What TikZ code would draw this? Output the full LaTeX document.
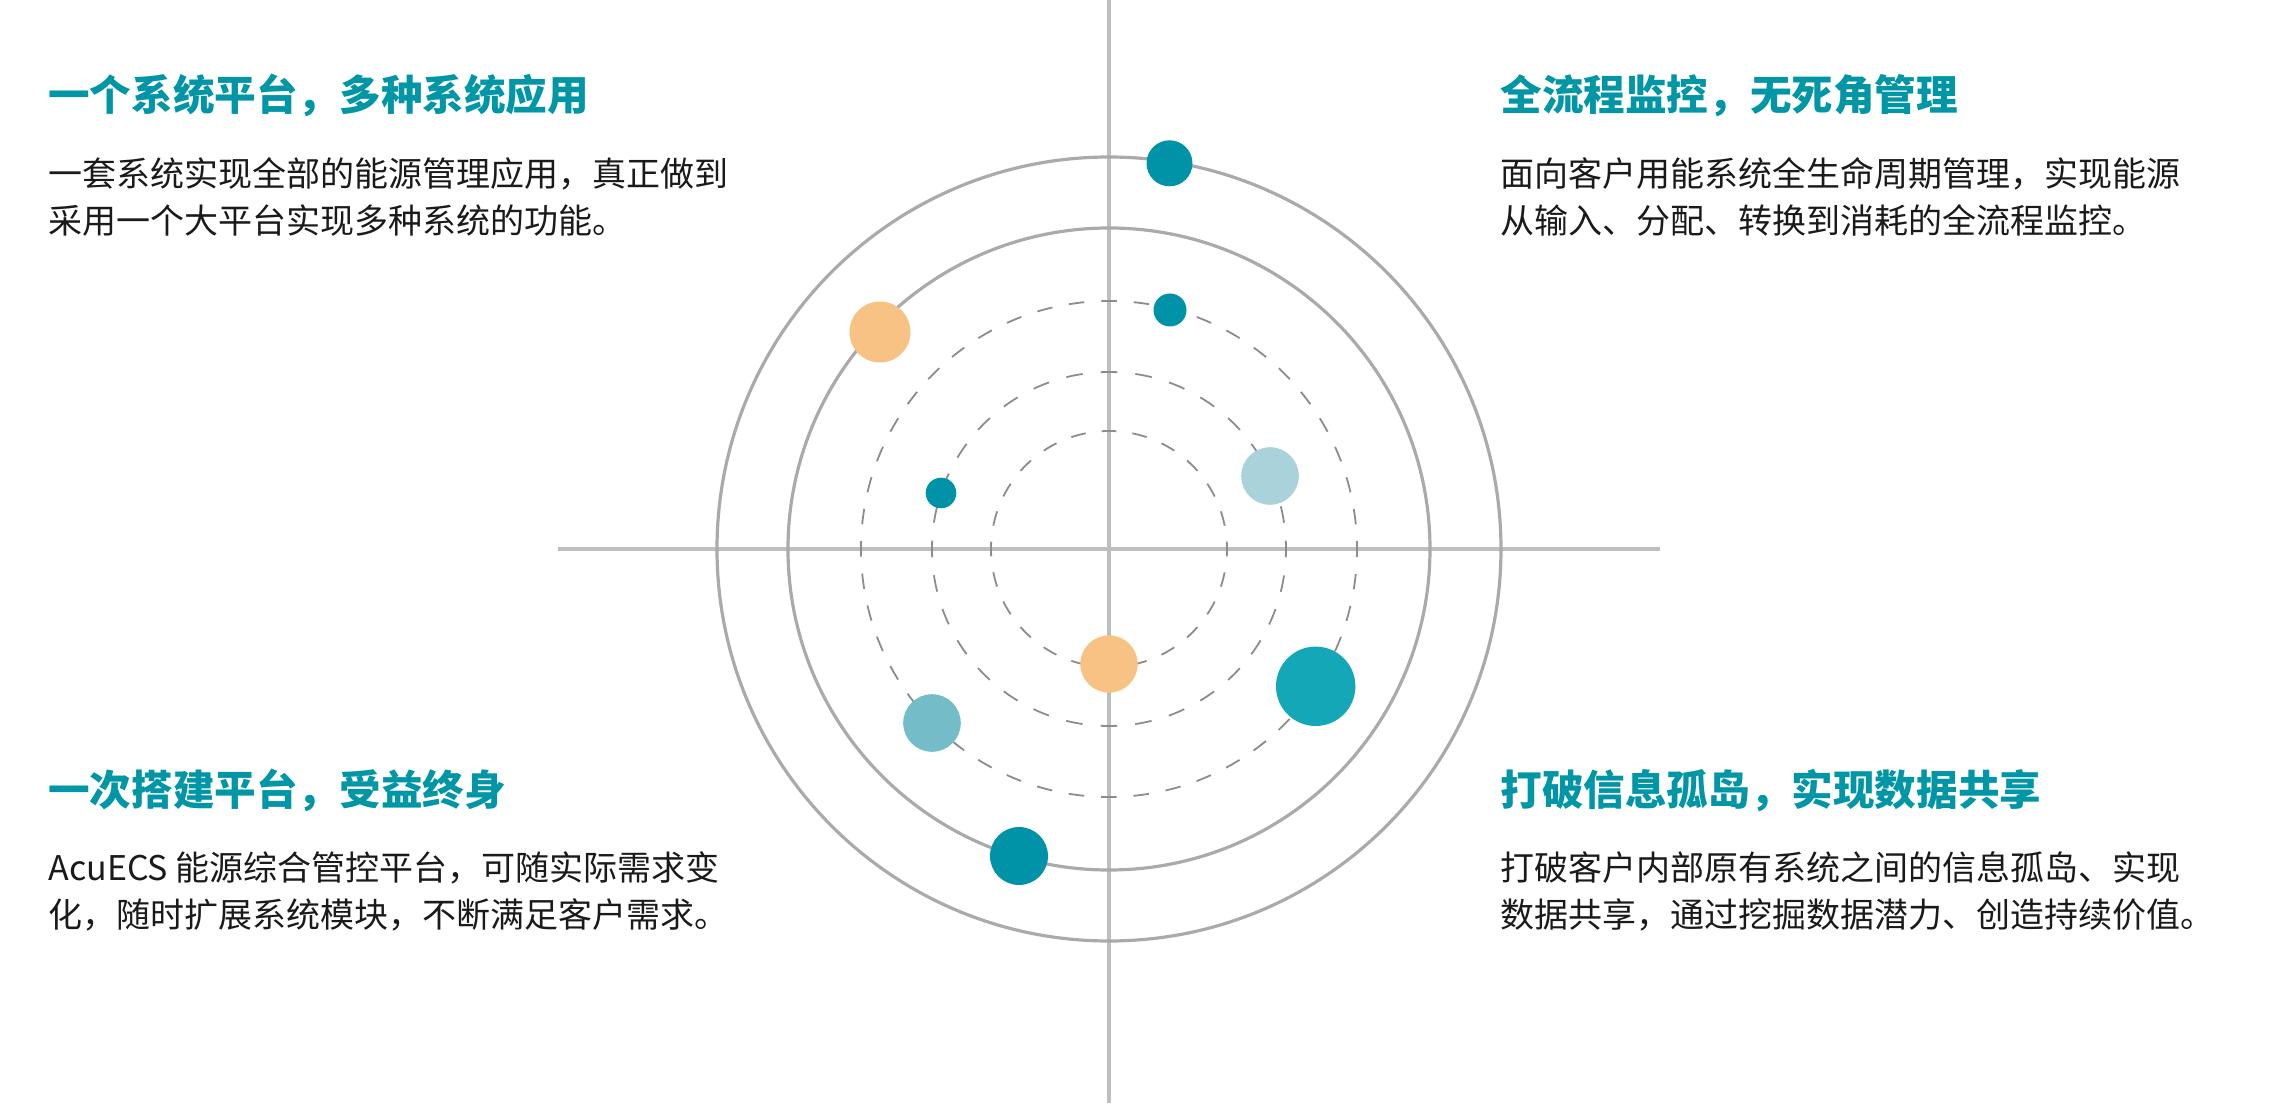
\documentclass[tikz,border=0pt]{standalone}
\usepackage{fontspec}
\setmainfont{Noto Sans CJK SC}
\usetikzlibrary{positioning}
\definecolor{axisgray}{HTML}{BEBEBE}
\definecolor{ringgray}{HTML}{AAAAAA}
\definecolor{dashgray}{HTML}{8C8C8C}
\definecolor{headteal}{HTML}{0096A6}
\definecolor{bodyblack}{HTML}{1A1A1A}
\definecolor{dotdark}{HTML}{0093A7}
\definecolor{dotorange}{HTML}{F7C283}
\definecolor{dotpale}{HTML}{A9D2DA}
\definecolor{dotmid}{HTML}{73BCC8}
\definecolor{dotbright}{HTML}{14A7B8}

\begin{document}
\begin{tikzpicture}[x=0.5pt,y=0.5pt,
    axis/.style={draw=axisgray, line width=2pt},
    ring/.style={draw=ringgray, line width=1.6pt},
    dashring/.style={draw=dashgray, line width=0.9pt},
    dot/.style={circle, inner sep=0pt, minimum size=#1},
    heading/.style={anchor=base west, inner sep=0pt, text=headteal,
      font=\fontsize{20.8pt}{24pt}\selectfont\bfseries},
    body/.style={anchor=base west, inner sep=0pt, align=left, text=bodyblack,
      font=\fontsize{17pt}{23.5pt}\selectfont}]
  \useasboundingbox (-1109,-554) rectangle (1166,549);
  % axes
  \coordinate (o) at (0,0);
  \coordinate (xl) at (-551,0);
  \coordinate (xr) at (551,0);
  \coordinate (yt) at (0,549);
  \coordinate (yb) at (0,-554);
  \draw[axis] (xl) -- (xr);
  \draw[axis] (yb) -- (yt);
  % rings
  \draw[ring] (o) circle (392);
  \draw[ring] (o) circle (321);
  \foreach \r/\n in {248/12,177/8,118/6}{
    \pgfmathsetmacro\per{pi*\r/(2*\n)*0.5}
    \pgfmathsetmacro\don{0.48*\per}
    \pgfmathsetmacro\doff{\per-\don}
    \pgfmathsetmacro\dph{0.5*\don}
    \draw[dashring, dash pattern=on \don pt off \doff pt, dash phase=\dph pt]
      (o) circle (\r);
  }
  % dots
  \node[dot=23pt, fill=dotdark] (d1) at (60.5,385.7) {};
  \node[dot=16.5pt, fill=dotdark] (d2) at (61,239) {};
  \node[dot=30.5pt, fill=dotorange] (d3) at (-229,217) {};
  \node[dot=15.3pt, fill=dotdark] (d4) at (-168,56) {};
  \node[dot=28.8pt, fill=dotpale] (d5) at (161,73) {};
  \node[dot=28.7pt, fill=dotorange] (d6) at (0,-115) {};
  \node[dot=39.7pt, fill=dotbright] (d7) at (206.7,-137.3) {};
  \node[dot=28.8pt, fill=dotmid] (d8) at (-177,-174) {};
  \node[dot=29pt, fill=dotdark] (d9) at (-90,-307) {};
  % texts (body base = last line)
  \node[heading] (h1) at (-1061,438) {一个系统平台，多种系统应用};
  \node[body] (t1) at ([yshift=-61.2pt]h1.base west)
    {一套系统实现全部的能源管理应用，真正做到\\采用一个大平台实现多种系统的功能。};
  \node[heading] (h2) at (391,438) {全流程监控，无死角管理};
  \node[body] (t2) at ([yshift=-61.2pt]h2.base west)
    {面向客户用能系统全生命周期管理，实现能源\\从输入、分配、转换到消耗的全流程监控。};
  \node[heading] (h3) at (-1061,-256) {一次搭建平台，受益终身};
  \node[body] (t3) at ([yshift=-61.4pt]h3.base west)
    {AcuECS 能源综合管控平台，可随实际需求变\\化，随时扩展系统模块，不断满足客户需求。};
  \node[heading] (h4) at (391,-256) {打破信息孤岛，实现数据共享};
  \node[body] (t4) at ([yshift=-61.4pt]h4.base west)
    {打破客户内部原有系统之间的信息孤岛、实现\\数据共享，通过挖掘数据潜力、创造持续价值。};
\end{tikzpicture}
\end{document}
